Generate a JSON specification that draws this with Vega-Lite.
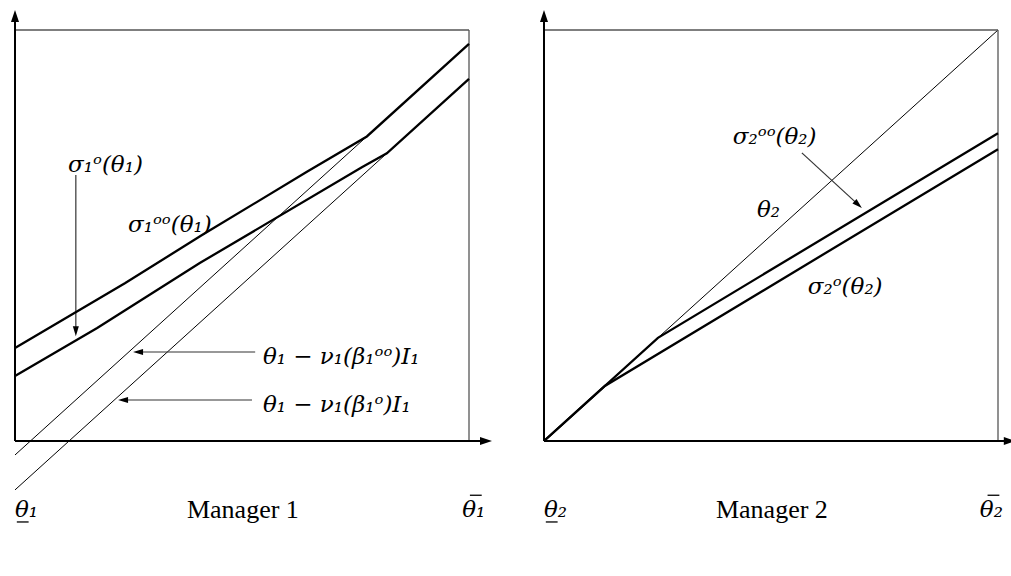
{
  "$schema": "https://vega.github.io/schema/vega-lite/v6.json",
  "padding": 0,
  "spacing": 0,
  "background": "white",
  "config": {"view": {"stroke": null}, "concat": {"spacing": 0}},
  "datasets": {
    "p1thick": [
      {"s": "oo", "x": 0, "y": 0.226}, {"s": "oo", "x": 0.242, "y": 0.384}, {"s": "oo", "x": 0.412, "y": 0.501},
      {"s": "oo", "x": 0.643, "y": 0.655}, {"s": "oo", "x": 0.775, "y": 0.741}, {"s": "oo", "x": 1.0, "y": 0.966},
      {"s": "o", "x": 0, "y": 0.158}, {"s": "o", "x": 0.181, "y": 0.275}, {"s": "o", "x": 0.407, "y": 0.433},
      {"s": "o", "x": 0.764, "y": 0.666}, {"s": "o", "x": 0.819, "y": 0.7}, {"s": "o", "x": 1.0, "y": 0.881}
    ],
    "p1rules": [
      {"kind": "thin", "x": 0, "y": -0.034, "x2": 0.775, "y2": 0.741},
      {"kind": "thin", "x": 0, "y": -0.119, "x2": 0.819, "y2": 0.7},
      {"kind": "box", "x": 0, "y": 1, "x2": 1, "y2": 1},
      {"kind": "box", "x": 1, "y": 0, "x2": 1, "y2": 1},
      {"kind": "axis", "x": 0, "y": 0, "x2": 0, "y2": 1.034},
      {"kind": "axis", "x": 0, "y": 0, "x2": 1.0374, "y2": 0},
      {"kind": "note", "x": 0.529, "y": 0.2165, "x2": 0.271, "y2": 0.2165},
      {"kind": "note", "x": 0.522, "y": 0.0998, "x2": 0.238, "y2": 0.0998},
      {"kind": "note", "x": 0.134, "y": 0.647, "x2": 0.134, "y2": 0.267},
      {"kind": "bar", "x": 0.004, "y": -0.197, "x2": 0.03, "y2": -0.197},
      {"kind": "bar", "x": 1.002, "y": -0.132, "x2": 1.028, "y2": -0.132}
    ],
    "p1heads": [
      {"dir": "up", "x": 0, "y": 1.034},
      {"dir": "right", "x": 1.0374, "y": 0},
      {"dir": "left", "x": 0.271, "y": 0.2165},
      {"dir": "left", "x": 0.238, "y": 0.0998},
      {"dir": "down", "x": 0.134, "y": 0.267}
    ],
    "p1math": [
      {"label": "σ₁ᵒ(θ₁)", "x": 0.117, "y": 0.672},
      {"label": "σ₁ᵒᵒ(θ₁)", "x": 0.249, "y": 0.526},
      {"label": "θ₁ − ν₁(β₁ᵒᵒ)I₁", "x": 0.546, "y": 0.204},
      {"label": "θ₁ − ν₁(β₁ᵒ)I₁", "x": 0.546, "y": 0.0876},
      {"label": "θ₁", "x": 0, "y": -0.168},
      {"label": "θ₁", "x": 0.985, "y": -0.168}
    ],
    "p1names": [{"label": "Manager 1", "x": 0.502, "y": -0.168}],
    "p2thick": [
      {"s": "oo", "x": 0, "y": 0}, {"s": "oo", "x": 0.251, "y": 0.251}, {"s": "oo", "x": 1.0, "y": 0.749},
      {"s": "o", "x": 0, "y": 0}, {"s": "o", "x": 0.134, "y": 0.134}, {"s": "o", "x": 1.0, "y": 0.71}
    ],
    "p2rules": [
      {"kind": "thin", "x": 0, "y": 0, "x2": 1, "y2": 1},
      {"kind": "box", "x": 0, "y": 1, "x2": 1, "y2": 1},
      {"kind": "box", "x": 1, "y": 0, "x2": 1, "y2": 1},
      {"kind": "axis", "x": 0, "y": 0, "x2": 0, "y2": 1.034},
      {"kind": "axis", "x": 0, "y": 0, "x2": 1.026, "y2": 0},
      {"kind": "note", "x": 0.568, "y": 0.701, "x2": 0.692, "y2": 0.575},
      {"kind": "bar", "x": 0.004, "y": -0.197, "x2": 0.03, "y2": -0.197},
      {"kind": "bar", "x": 0.977, "y": -0.132, "x2": 1.003, "y2": -0.132}
    ],
    "p2heads": [
      {"dir": "up", "x": 0, "y": 1.034},
      {"dir": "right", "x": 1.026, "y": 0},
      {"dir": "downright", "x": 0.692, "y": 0.575}
    ],
    "p2math": [
      {"label": "σ₂ᵒᵒ(θ₂)", "x": 0.416, "y": 0.74},
      {"label": "θ₂", "x": 0.469, "y": 0.562},
      {"label": "σ₂ᵒ(θ₂)", "x": 0.581, "y": 0.375},
      {"label": "θ₂", "x": 0, "y": -0.168},
      {"label": "θ₂", "x": 0.96, "y": -0.168}
    ],
    "p2names": [{"label": "Manager 2", "x": 0.502, "y": -0.168}]
  },
  "hconcat": [
    {
      "width": 520,
      "height": 576,
      "encoding": {
        "x": {"field": "x", "type": "quantitative", "scale": {"domain": [-0.03304, 1.11233], "nice": false, "zero": false}, "axis": null},
        "y": {"field": "y", "type": "quantitative", "scale": {"domain": [-0.32847, 1.07299], "nice": false, "zero": false}, "axis": null}
      },
      "layer": [
        {"data": {"name": "p1rules"}, "transform": [{"filter": "datum.kind == 'thin'"}], "mark": {"type": "rule", "color": "black", "strokeWidth": 1}, "encoding": {"x2": {"field": "x2"}, "y2": {"field": "y2"}}},
        {"data": {"name": "p1rules"}, "transform": [{"filter": "datum.kind == 'box'"}], "mark": {"type": "rule", "color": "#555555", "strokeWidth": 1.3}, "encoding": {"x2": {"field": "x2"}, "y2": {"field": "y2"}}},
        {"data": {"name": "p1rules"}, "transform": [{"filter": "datum.kind == 'axis'"}], "mark": {"type": "rule", "color": "black", "strokeWidth": 2}, "encoding": {"x2": {"field": "x2"}, "y2": {"field": "y2"}}},
        {"data": {"name": "p1rules"}, "transform": [{"filter": "datum.kind == 'note'"}], "mark": {"type": "rule", "color": "#333333", "strokeWidth": 1.2}, "encoding": {"x2": {"field": "x2"}, "y2": {"field": "y2"}}},
        {"data": {"name": "p1rules"}, "transform": [{"filter": "datum.kind == 'bar'"}], "mark": {"type": "rule", "color": "black", "strokeWidth": 1.3}, "encoding": {"x2": {"field": "x2"}, "y2": {"field": "y2"}}},
        {"data": {"name": "p1thick"}, "mark": {"type": "line", "color": "black", "strokeWidth": 2.3}, "encoding": {"detail": {"field": "s"}}},
        {"data": {"name": "p1heads"}, "transform": [{"filter": "datum.dir == 'up'"}], "mark": {"type": "point", "shape": "M0,-1L0.667,1L-0.667,1Z", "filled": true, "color": "black", "opacity": 1, "size": 144, "angle": 0}},
        {"data": {"name": "p1heads"}, "transform": [{"filter": "datum.dir == 'right'"}], "mark": {"type": "point", "shape": "M0,-1L0.667,1L-0.667,1Z", "filled": true, "color": "black", "opacity": 1, "size": 144, "angle": 90}},
        {"data": {"name": "p1heads"}, "transform": [{"filter": "datum.dir == 'left'"}], "mark": {"type": "point", "shape": "M0,-1L0.6,1L-0.6,1Z", "filled": true, "color": "black", "opacity": 1, "size": 100, "angle": 270}},
        {"data": {"name": "p1heads"}, "transform": [{"filter": "datum.dir == 'down'"}], "mark": {"type": "point", "shape": "M0,-1L0.6,1L-0.6,1Z", "filled": true, "color": "black", "opacity": 1, "size": 100, "angle": 180}},
        {"data": {"name": "p1math"}, "mark": {"type": "text", "font": "DejaVu Serif", "fontStyle": "italic", "fontSize": 23, "align": "left", "baseline": "middle", "color": "black"}, "encoding": {"text": {"field": "label"}}},
        {"data": {"name": "p1names"}, "mark": {"type": "text", "font": "Liberation Serif", "fontSize": 26, "align": "center", "baseline": "middle", "color": "black"}, "encoding": {"text": {"field": "label"}}}
      ]
    },
    {
      "width": 491,
      "height": 576,
      "encoding": {
        "x": {"field": "x", "type": "quantitative", "scale": {"domain": [-0.05286, 1.02863], "nice": false, "zero": false}, "axis": null},
        "y": {"field": "y", "type": "quantitative", "scale": {"domain": [-0.32847, 1.07299], "nice": false, "zero": false}, "axis": null}
      },
      "layer": [
        {"data": {"name": "p2rules"}, "transform": [{"filter": "datum.kind == 'thin'"}], "mark": {"type": "rule", "color": "black", "strokeWidth": 1}, "encoding": {"x2": {"field": "x2"}, "y2": {"field": "y2"}}},
        {"data": {"name": "p2rules"}, "transform": [{"filter": "datum.kind == 'box'"}], "mark": {"type": "rule", "color": "#555555", "strokeWidth": 1.3}, "encoding": {"x2": {"field": "x2"}, "y2": {"field": "y2"}}},
        {"data": {"name": "p2rules"}, "transform": [{"filter": "datum.kind == 'axis'"}], "mark": {"type": "rule", "color": "black", "strokeWidth": 2}, "encoding": {"x2": {"field": "x2"}, "y2": {"field": "y2"}}},
        {"data": {"name": "p2rules"}, "transform": [{"filter": "datum.kind == 'note'"}], "mark": {"type": "rule", "color": "#333333", "strokeWidth": 1.2}, "encoding": {"x2": {"field": "x2"}, "y2": {"field": "y2"}}},
        {"data": {"name": "p2rules"}, "transform": [{"filter": "datum.kind == 'bar'"}], "mark": {"type": "rule", "color": "black", "strokeWidth": 1.3}, "encoding": {"x2": {"field": "x2"}, "y2": {"field": "y2"}}},
        {"data": {"name": "p2thick"}, "mark": {"type": "line", "color": "black", "strokeWidth": 2.3}, "encoding": {"detail": {"field": "s"}}},
        {"data": {"name": "p2heads"}, "transform": [{"filter": "datum.dir == 'up'"}], "mark": {"type": "point", "shape": "M0,-1L0.667,1L-0.667,1Z", "filled": true, "color": "black", "opacity": 1, "size": 144, "angle": 0}},
        {"data": {"name": "p2heads"}, "transform": [{"filter": "datum.dir == 'right'"}], "mark": {"type": "point", "shape": "M0,-1L0.667,1L-0.667,1Z", "filled": true, "color": "black", "opacity": 1, "size": 144, "angle": 90}},
        {"data": {"name": "p2heads"}, "transform": [{"filter": "datum.dir == 'downright'"}], "mark": {"type": "point", "shape": "M0,-1L0.6,1L-0.6,1Z", "filled": true, "color": "black", "opacity": 1, "size": 100, "angle": 132.5}},
        {"data": {"name": "p2math"}, "mark": {"type": "text", "font": "DejaVu Serif", "fontStyle": "italic", "fontSize": 23, "align": "left", "baseline": "middle", "color": "black"}, "encoding": {"text": {"field": "label"}}},
        {"data": {"name": "p2names"}, "mark": {"type": "text", "font": "Liberation Serif", "fontSize": 26, "align": "center", "baseline": "middle", "color": "black"}, "encoding": {"text": {"field": "label"}}}
      ]
    }
  ]
}
